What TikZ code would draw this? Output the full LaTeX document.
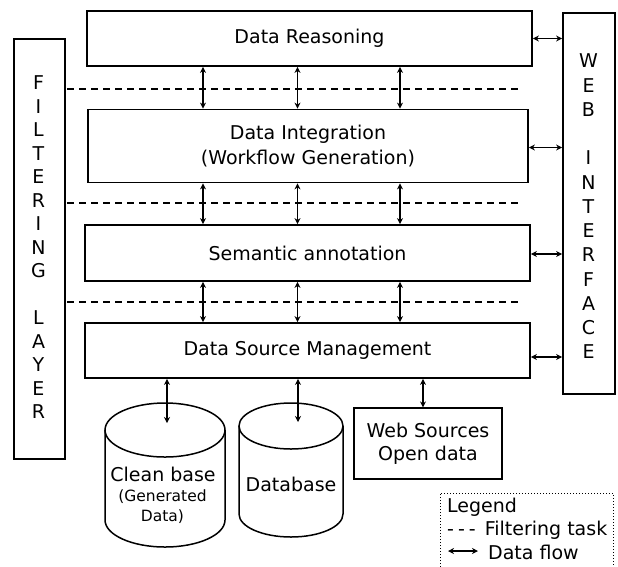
\documentclass[tikz,border=0pt]{standalone}
\usepackage{fontspec}
\setmainfont{DejaVu Sans}
\usetikzlibrary{arrows.meta}
\tikzset{
  layerbox/.style={draw, line width=1.8pt, rectangle, inner sep=0pt, align=center,
    font=\fontsize{19}{24.5}\selectfont},
  sidebox/.style={draw, line width=1.8pt, rectangle, inner sep=0pt},
  sidetext/.style={align=center, inner sep=0pt, font=\fontsize{19}{23.5}\selectfont},
  flow/.style={line width=1.3pt, {Stealth[length=6pt,width=6pt]}-{Stealth[length=6pt,width=6pt]}},
  filterline/.style={line width=1.2pt, dash pattern=on 7pt off 5pt},
  store/.style={line width=1.5pt},
  plain/.style={inner sep=0pt, align=center, font=\fontsize{19}{23}\selectfont},
  small/.style={inner sep=0pt, align=center, font=\fontsize{15.5}{20}\selectfont},
}
\begin{document}
\begin{tikzpicture}[x=1pt, y=-1pt]
\useasboundingbox (0,0) rectangle (618,566);
\clip (0,0) rectangle (618,566);

% side layers
\node[sidebox, minimum width=51pt, minimum height=420pt] (filter) at (39.5,249) {};
\node[sidetext] (filtertext) at (38.5,247.5) {F\\I\\L\\T\\E\\R\\I\\N\\G\\{}\\L\\A\\Y\\E\\R};
\node[sidebox, minimum width=52pt, minimum height=381pt] (web) at (589,203.5) {};
\node[sidetext, font=\fontsize{19}{24.25}\selectfont] (webtext) at (588.5,206.5) {W\\E\\B\\{}\\I\\N\\T\\E\\R\\F\\A\\C\\E};

% processing layers
\node[layerbox, minimum width=445pt, minimum height=55pt] (reasoning) at (309.5,38.5) {Data Reasoning};
\node[layerbox, minimum width=440pt, minimum height=73pt] (integration) at (308,146) {Data Integration\\(Workflow Generation)};
\node[layerbox, minimum width=445pt, minimum height=56pt] (semantic) at (307.5,253) {Semantic annotation};
\node[layerbox, minimum width=445pt, minimum height=55pt] (dsm) at (307.5,350.5) {Data Source Management};

% filtering tasks between layers
\coordinate (f1a) at (67,89);  \coordinate (f1b) at (520,89);
\coordinate (f2a) at (67,203); \coordinate (f2b) at (518,203);
\coordinate (f3a) at (67,302); \coordinate (f3b) at (518,302);
\draw[filterline] (f1a) -- (f1b);
\draw[filterline] (f2a) -- (f2b);
\draw[filterline] (f3a) -- (f3b);

% data flow between layers
\coordinate (c1) at (203,0);
\coordinate (c2) at (297.5,0);
\coordinate (c3) at (400,0);
\foreach \c in {c1,c2,c3}{
  \draw[flow] (reasoning.south -| \c) -- (integration.north -| \c);
  \draw[flow] (integration.south -| \c) -- (semantic.north -| \c);
  \draw[flow] (semantic.south -| \c) -- (dsm.north -| \c);
}

% data flow to the web interface
\draw[flow] (reasoning.east) -- (reasoning.east -| web.west);
\draw[flow] ([yshift=-1.5pt]integration.east) -- ([yshift=-1.5pt]integration.east -| web.west);
\draw[flow] ([yshift=-1pt]semantic.east) -- ([yshift=-1pt]semantic.east -| web.west);
\draw[flow] ([yshift=-6.5pt]dsm.east) -- ([yshift=-6.5pt]dsm.east -| web.west);

% clean base store
\draw[store, fill=white] (105,430) -- (105,520)
  arc[start angle=180, end angle=360, x radius=60pt, y radius=27pt] -- (225,430);
\draw[store] (165,430) ellipse[x radius=60pt, y radius=27pt];
\node[plain] (cleanbase) at (163,474) {Clean base};
\node[small] (generated) at (162.5,507) {(Generated\\Data)};
\coordinate (cbtop) at (167,423);

% database store
\draw[store, fill=white] (239,426) -- (239,514)
  arc[start angle=180, end angle=360, x radius=52pt, y radius=23pt] -- (343,426);
\draw[store] (291,426) ellipse[x radius=52pt, y radius=23pt];
\node[plain] (database) at (291,484) {Database};
\coordinate (dbtop) at (298,422);

% web sources
\node[draw, line width=1.2pt, minimum width=148pt, minimum height=71pt, inner sep=0pt,
  align=center, font=\fontsize{19}{23}\selectfont] (websrc) at (428,443.5) {Web Sources\\Open data};

\draw[flow] (dsm.south -| cbtop) -- (cbtop);
\draw[flow] (dsm.south -| dbtop) -- (dbtop);
\draw[flow] (dsm.south -| 423,0) -- (websrc.north -| 423,0);

% legend
\draw[line width=1pt, dotted] (440,570) -- (440,493) -- (613,493) -- (613,570);
\node[plain, anchor=west] (legendtitle) at (447,507) {Legend};
\node[plain, anchor=west] (legendfilter) at (447,530) {-\kern4pt-\kern4pt-\kern3pt\ Filtering task};
\node[plain, anchor=west] (legendflow) at (488,552) {Data flow};
\coordinate (la) at (448,551);
\coordinate (lb) at (478,551);
\draw[flow] (la) -- (lb);
\end{tikzpicture}
\end{document}
